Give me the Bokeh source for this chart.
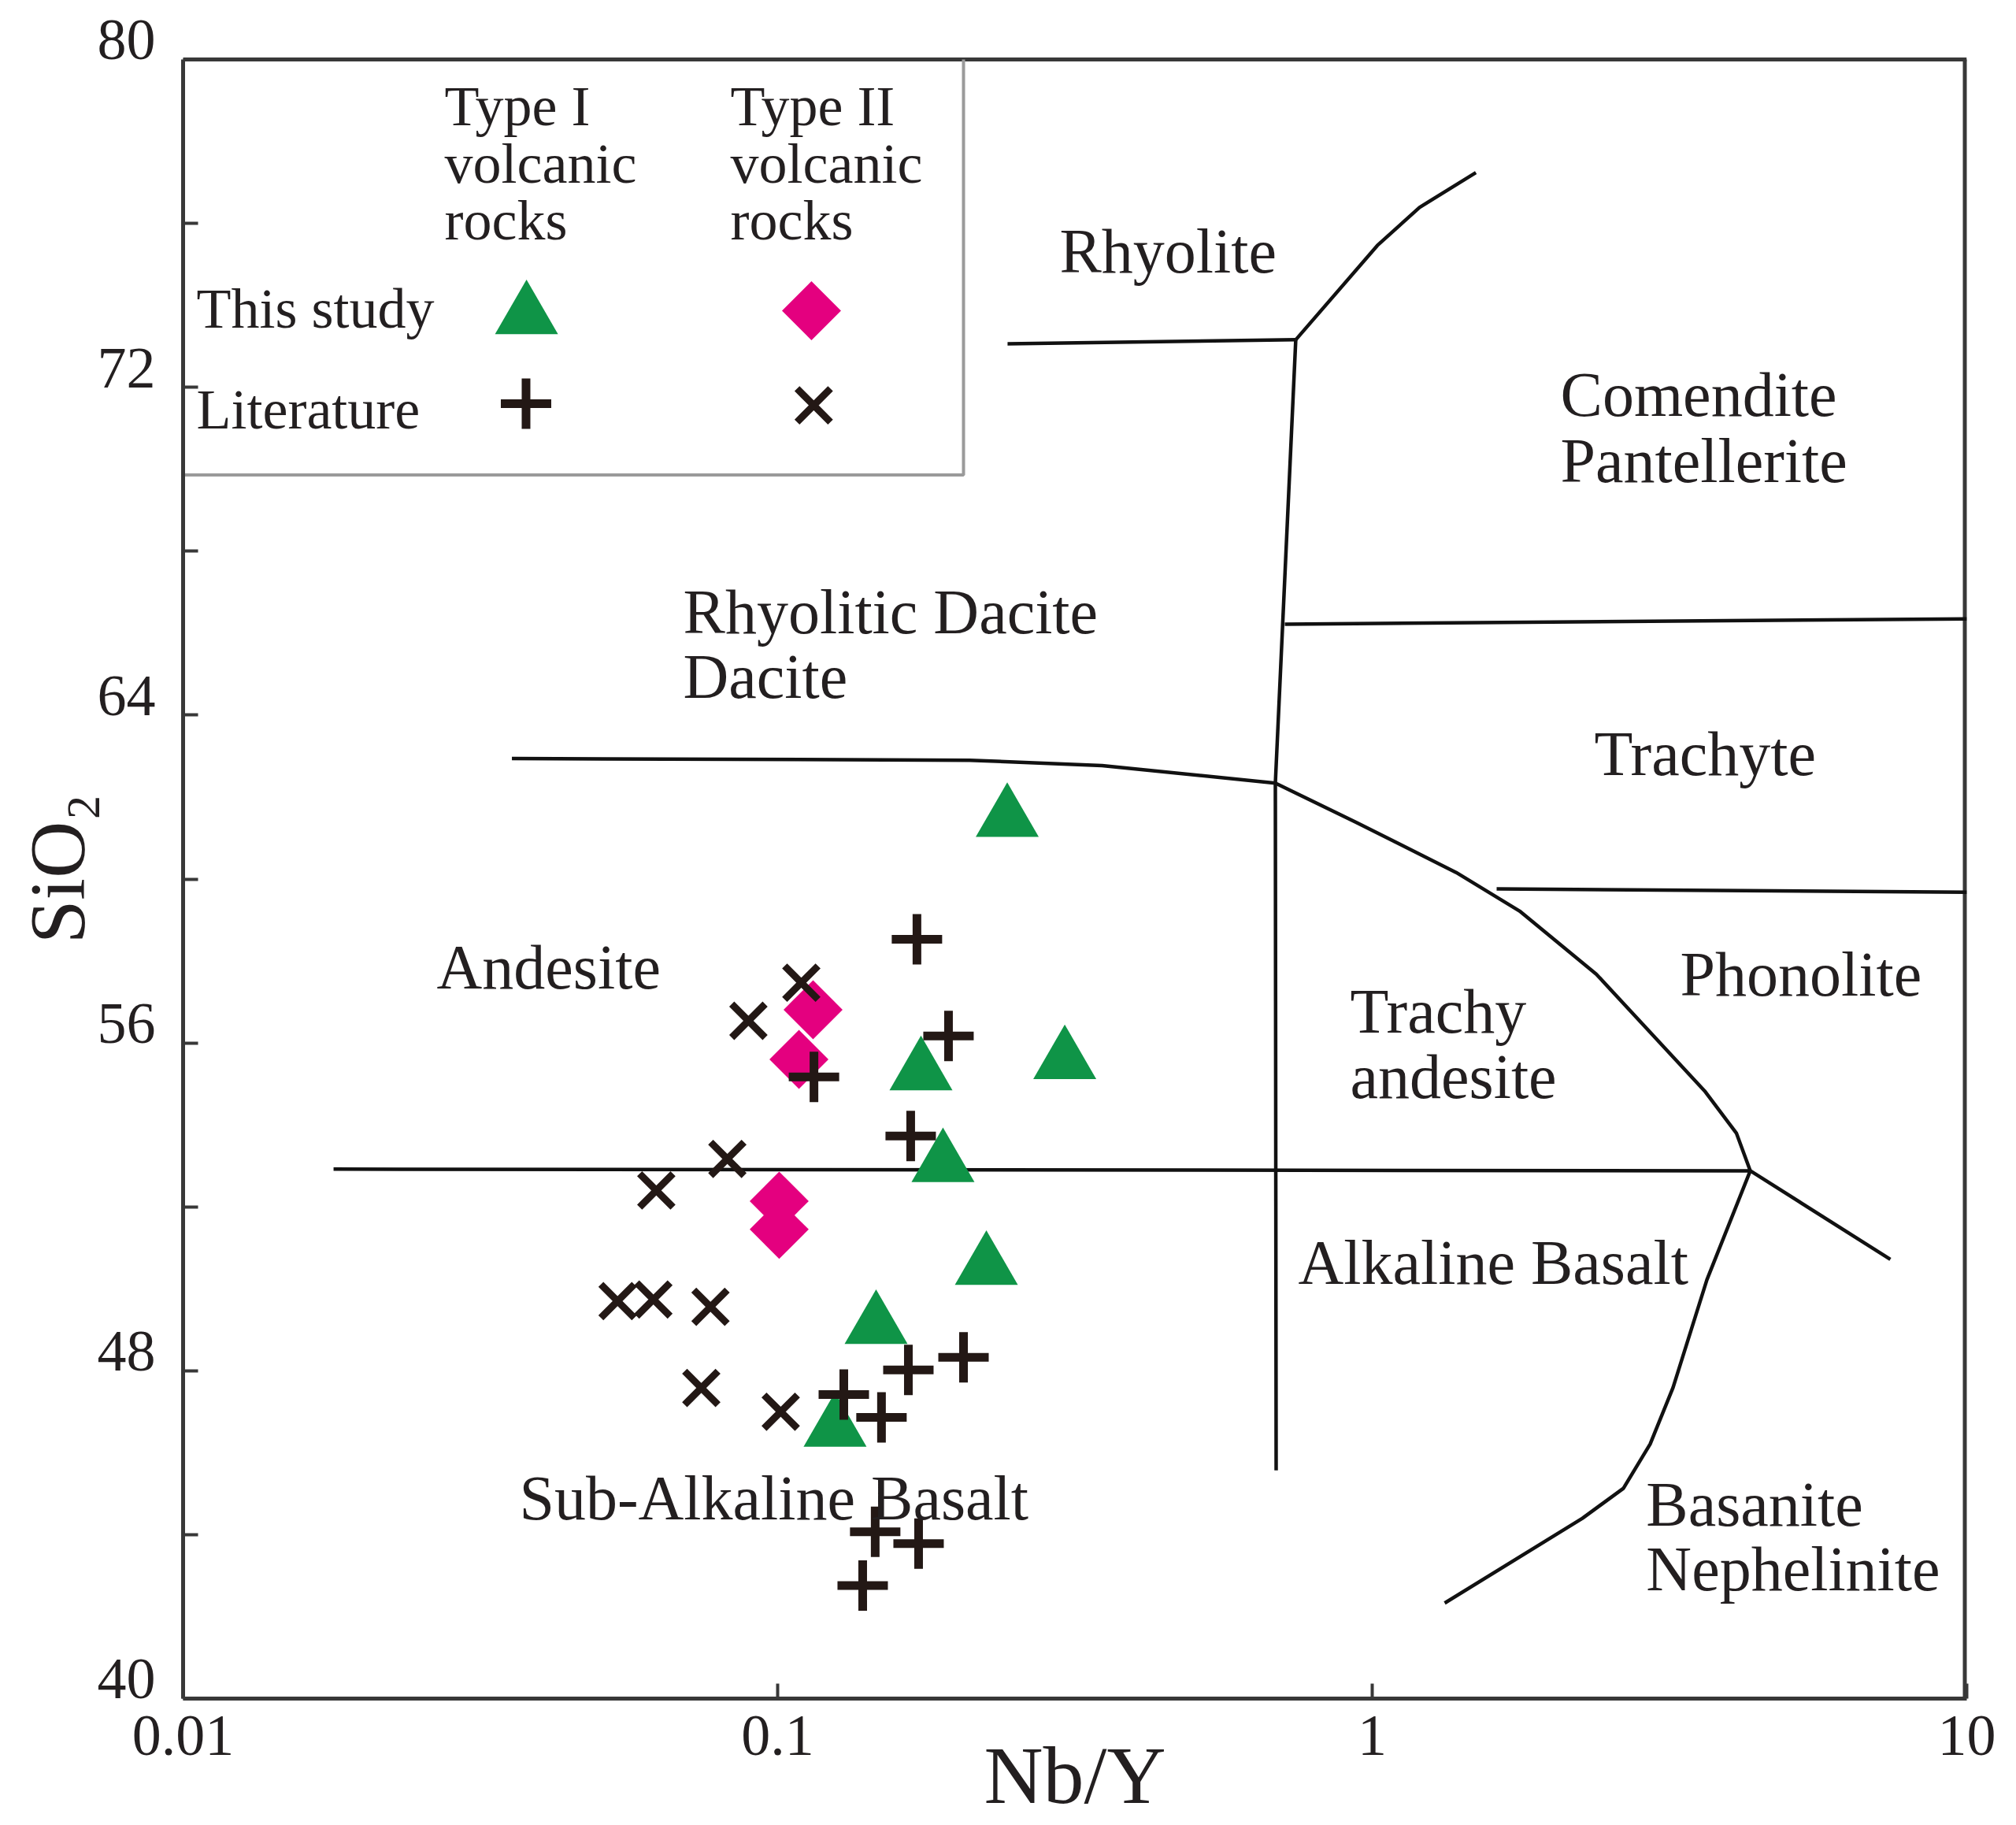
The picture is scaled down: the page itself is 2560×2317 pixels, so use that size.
import math
from bokeh.plotting import figure
from bokeh.models import (Range1d, FixedTicker, CustomJSTickFormatter, LinearAxis,
                          LabelSet, ColumnDataSource)
from bokeh.embed import file_html
from bokeh.resources import INLINE
from bokeh.core.properties import value

# ---------------- data ----------------
# This study, Type I volcanic rocks (green triangles)
type1_nby = [0.1742, 0.3040, 0.1897, 0.2244, 0.1464, 0.1249, 0.2433]
type1_sio2 = [55.29, 55.56, 53.05, 50.54, 49.10, 46.59, 61.47]
# This study, Type II volcanic rocks (magenta diamonds)
type2_nby = [0.1147, 0.1086, 0.1006, 0.1006]
type2_sio2 = [56.81, 55.60, 52.14, 51.45]
# Literature, Type I (+)
lit1_nby = [0.1715, 0.1938, 0.1151, 0.1674, 0.1659, 0.2054, 0.1292, 0.1495,
            0.1459, 0.1726, 0.1390]
lit1_sio2 = [58.53, 56.17, 55.17, 53.73, 48.02, 48.33, 47.42, 46.86,
             44.07, 43.78, 42.76]
# Literature, Type II (x)
lit2_nby = [0.1096, 0.0893, 0.0823, 0.0625, 0.0538, 0.0618, 0.0771, 0.0744, 0.1012]
lit2_sio2 = [57.47, 56.54, 53.17, 52.40, 49.70, 49.74, 49.56, 47.58, 47.00]

# field boundaries (Nb/Y, SiO2)
b_rhy_x = [0.2436, 0.7437]
b_rhy_y = [73.06, 73.16]
b_com_x = [0.7437, 1.020, 1.201, 1.494]
b_com_y = [73.16, 75.46, 76.39, 77.24]
b_vert_x = [0.7437, 0.6872, 0.6893]
b_vert_y = [73.16, 62.34, 45.57]
b_trc_x = [0.7129, 10.0]
b_trc_y = [66.22, 66.35]
b_pho_x = [1.619, 10.0]
b_pho_y = [59.76, 59.68]
b_dac_x = [0.03573, 0.2104, 0.3513, 0.6872, 0.9408, 1.384, 1.769, 2.381,
           3.622, 4.097, 4.324]
b_dac_y = [62.94, 62.90, 62.77, 62.34, 61.38, 60.16, 59.22, 57.68,
           54.83, 53.80, 52.88]
b_and_x = [0.01791, 4.324]
b_and_y = [52.92, 52.88]
b_tail_x = [4.324, 7.438]
b_tail_y = [52.88, 50.72]
b_bas_x = [4.324, 3.655, 3.206, 2.934, 2.645, 2.257, 1.324]
b_bas_y = [52.88, 50.22, 47.59, 46.21, 45.13, 44.40, 42.33]

# field names and anchor (left, baseline)
field_names = ["Rhyolite", "Comendite", "Pantellerite", "Rhyolitic Dacite", "Dacite",
               "Andesite", "Trachyte", "Phonolite", "Trachy", "andesite",
               "Alkaline Basalt", "Basanite", "Nephelinite", "Sub-Alkaline Basalt"]
field_x = [0.2979, 2.073, 2.073, 0.06937, 0.06937, 0.02670, 2.363, 3.295,
           0.9182, 0.9182, 0.7506, 2.889, 2.889, 0.03677]
field_y = [74.81, 71.31, 69.69, 66.00, 64.42, 57.33, 62.53, 57.16,
           56.25, 54.66, 50.12, 44.22, 42.64, 44.38]

X_MIN, X_MAX = 0.01, 10
Y_MIN, Y_MAX = 40, 80
x_ticks = [0.01, 0.1, 1, 10]
y_ticks = [40, 44, 48, 52, 56, 60, 64, 68, 72, 76, 80]
y_label_ticks = [40, 48, 56, 64, 72, 80]

# ---------------- style ----------------
FONT = "Liberation Serif"
GREEN = "#0f9447"
PINK = "#e4007f"
INK = "#231815"
TXT = "#231f20"
LINE = "#111111"
FRAME = "#383838"

TOP_PAD = 0.5          # data units of empty frame above SiO2 = 80 (room for the "80" label)
LABEL_SHIFT = 0.472    # y tick labels sit on their tick (shifted up)

p = figure(width=2560, height=2317, x_axis_type="log",
           x_range=Range1d(X_MIN, X_MAX), y_range=Range1d(Y_MIN, Y_MAX + TOP_PAD),
           output_backend="svg", toolbar_location=None,
           min_border_left=232, min_border_right=63,
           min_border_top=49, min_border_bottom=161)
p.xgrid.visible = False
p.ygrid.visible = False
p.background_fill_color = "white"
p.border_fill_color = "white"
p.outline_line_color = None

# x axis
xa = p.xaxis[0]
xa.ticker = FixedTicker(ticks=x_ticks, minor_ticks=[])
xa.formatter = CustomJSTickFormatter(code="return String(tick)")
xa.axis_line_color = FRAME
xa.axis_line_width = 5
xa.major_tick_in = 19
xa.major_tick_out = 0
xa.minor_tick_in = 0
xa.minor_tick_out = 0
xa.major_tick_line_color = FRAME
xa.major_tick_line_width = 4
xa.major_label_standoff = 22
xa.major_label_text_font = FONT
xa.major_label_text_font_size = "74px"
xa.major_label_text_color = TXT
xa.axis_label = "Nb/Y"
xa.axis_label_text_font = FONT
xa.axis_label_text_font_style = "normal"
xa.axis_label_text_font_size = "104px"
xa.axis_label_text_color = TXT
xa.axis_label_standoff = -35

# y axis: ticks only
ya = p.yaxis[0]
ya.ticker = FixedTicker(ticks=y_ticks, minor_ticks=[])
ya.bounds = (Y_MIN, Y_MAX)
ya.formatter = CustomJSTickFormatter(code="return ''")
ya.axis_line_color = FRAME
ya.axis_line_width = 5
ya.major_tick_in = 19
ya.major_tick_out = 0
ya.minor_tick_in = 0
ya.minor_tick_out = 0
ya.major_tick_line_color = FRAME
ya.major_tick_line_width = 4
ya.major_label_standoff = 0
ya.major_label_text_font_size = "1px"

# y axis: labels (shifted so that digits sit on the tick) and title
p.extra_y_ranges = {"ylab": Range1d(Y_MIN - LABEL_SHIFT, Y_MAX + TOP_PAD - LABEL_SHIFT)}
yl = LinearAxis(y_range_name="ylab", ticker=FixedTicker(ticks=y_label_ticks, minor_ticks=[]),
                axis_line_color=None, major_tick_in=0, major_tick_out=0,
                minor_tick_in=0, minor_tick_out=0, major_label_standoff=35,
                major_label_text_font=FONT, major_label_text_font_size="74px",
                major_label_text_color=TXT,
                axis_label="SiO₂", axis_label_text_font=FONT,
                axis_label_text_font_style="normal", axis_label_text_font_size="100px",
                axis_label_text_color=TXT, axis_label_standoff=-7)
p.add_layout(yl, "left")

# top and right frame edges
p.line([X_MIN, X_MAX], [Y_MAX, Y_MAX], line_color=FRAME, line_width=5)
p.line([X_MAX, X_MAX], [Y_MIN, Y_MAX], line_color=FRAME, line_width=10)

# boundaries
for bx, by in [(b_rhy_x, b_rhy_y), (b_com_x, b_com_y), (b_vert_x, b_vert_y),
               (b_trc_x, b_trc_y), (b_pho_x, b_pho_y), (b_dac_x, b_dac_y),
               (b_and_x, b_and_y), (b_tail_x, b_tail_y), (b_bas_x, b_bas_y)]:
    p.line(bx, by, line_color=LINE, line_width=4.5)

# legend box (right and bottom edges)
LEG_R, LEG_B = 0.2054, 69.86
p.line([X_MIN, LEG_R, LEG_R], [LEG_B, LEG_B, Y_MAX], line_color="#9a9a9a", line_width=4)

# field labels
p.add_layout(LabelSet(source=ColumnDataSource(dict(x=field_x, y=field_y, t=field_names)),
                      x="x", y="y", text="t", text_font=value(FONT),
                      text_font_size="80px", text_color=TXT,
                      text_align="left", text_baseline="alphabetic"))

# data markers
p.scatter(type1_nby, type1_sio2, marker="triangle", size=80,
          fill_color=GREEN, line_color=None)
p.scatter(type2_nby, type2_sio2, marker="square", angle=math.pi / 4, size=53,
          fill_color=PINK, line_color=None)
p.scatter(lit1_nby, lit1_sio2, marker="cross", size=64, line_color=INK, line_width=11)
p.scatter(lit2_nby, lit2_sio2, marker="x", size=60, line_color=INK, line_width=9)

# legend markers
p.scatter([0.03781], [73.74], marker="triangle", size=80, fill_color=GREEN, line_color=None)
p.scatter([0.1140], [73.87], marker="square", angle=math.pi / 4, size=53,
          fill_color=PINK, line_color=None)
p.scatter([0.03774], [71.60], marker="cross", size=64, line_color=INK, line_width=11)
p.scatter([0.1150], [71.56], marker="x", size=60, line_color=INK, line_width=9)

# legend texts
leg_text = ["Type I", "volcanic", "rocks", "Type II", "volcanic", "rocks",
            "This study", "Literature"]
leg_x = [0.02753, 0.02753, 0.02753, 0.08327, 0.08327, 0.08327, 0.010532, 0.010532]
leg_y = [78.40, 77.00, 75.61, 78.40, 77.00, 75.61, 73.45, 71.00]
p.add_layout(LabelSet(source=ColumnDataSource(dict(x=leg_x, y=leg_y, t=leg_text)),
                      x="x", y="y", text="t", text_font=value(FONT),
                      text_font_size="72px", text_color=TXT,
                      text_align="left", text_baseline="alphabetic"))

open("out.html", "w").write(file_html(p, INLINE))
